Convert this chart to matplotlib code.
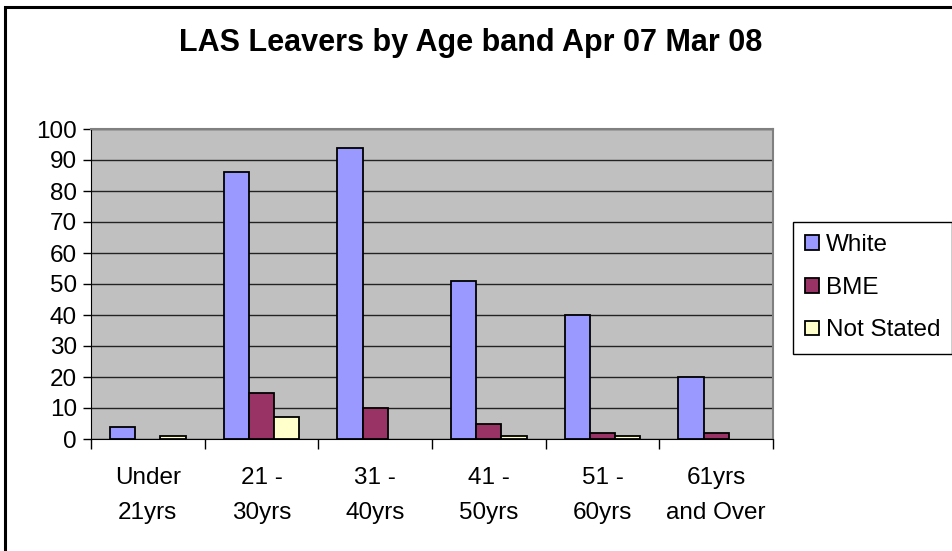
import numpy as np
import matplotlib
matplotlib.use("Agg")
import matplotlib.pyplot as plt
from matplotlib.patches import Rectangle

plt.rcParams["font.family"] = ["Liberation Sans", "DejaVu Sans"]

categories = ["Under\n21yrs", "21 -\n30yrs", "31 -\n40yrs", "41 -\n50yrs", "51 -\n60yrs", "61yrs\nand Over"]
white = [4, 86, 94, 51, 40, 20]
bme = [0, 15, 10, 5, 2, 2]
not_stated = [1, 7, 0, 1, 1, 0]

series = [("White", white, "#9999FF"), ("BME", bme, "#993366"), ("Not Stated", not_stated, "#FFFFCC")]

fig = plt.figure(figsize=(9.53, 5.51), dpi=100)
ax = fig.add_axes([91 / 953, 1 - 439 / 551, (773 - 91) / 953, (439 - 129) / 551])
ax.set_facecolor("#C0C0C0")

x = np.arange(len(categories))
bw = 1 / 4.5
for i, (name, vals, col) in enumerate(series):
    # zero values get no outline, as in the original
    lws = [1.3 if v > 0 else 0 for v in vals]
    ax.bar(x + (i - 1) * bw, vals, bw, color=col, edgecolor="black", linewidth=lws,
           label=name, zorder=3)

ax.set_xlim(-0.5, len(categories) - 0.5)
ax.set_ylim(0, 100)
ax.set_yticks(np.arange(0, 101, 10))
ax.yaxis.grid(True, color="#222222", linewidth=1, zorder=1)
ax.set_axisbelow(True)

ax.set_xticks(x)
ax.set_xticklabels(categories, fontsize=17.5, linespacing=1.75)
ax.set_xticks(np.arange(-0.5, len(categories), 1), minor=True)
ax.tick_params(axis="x", which="major", length=0, pad=20)
ax.tick_params(axis="x", which="minor", length=7, width=1, color="black", direction="out")
ax.tick_params(axis="y", labelsize=17.5, length=6, width=1, color="black", pad=4)

for side in ["top", "right"]:
    ax.spines[side].set_color("#808080")
    ax.spines[side].set_linewidth(1.5)
ax.spines["left"].set_color("black")
ax.spines["bottom"].set_color("black")

fig.text(471 / 953, 1 - 43 / 551, "LAS Leavers by Age band Apr 07 Mar 08",
         ha="center", va="center", fontsize=22, fontweight="bold")

leg = fig.legend(loc="upper left", bbox_to_anchor=(793 / 953, 1 - 222 / 551),
                 fontsize=17.5, handlelength=0.55, handleheight=0.55, handletextpad=0.3,
                 labelspacing=0.85, borderpad=0.5, borderaxespad=0, fancybox=False,
                 framealpha=1, edgecolor="black")
leg.get_frame().set_linewidth(1)
for h in leg.legend_handles:
    h.set_linewidth(1.3)
    h.set_edgecolor("black")

# outer chart frame (right and bottom cut off in the reference)
fig.patches.append(Rectangle((5 / 953, -0.05), 1.1, 1 - 7 / 551 + 0.05, transform=fig.transFigure,
                             fill=False, edgecolor="black", linewidth=2.2))

fig.savefig("out.png", dpi=100)
